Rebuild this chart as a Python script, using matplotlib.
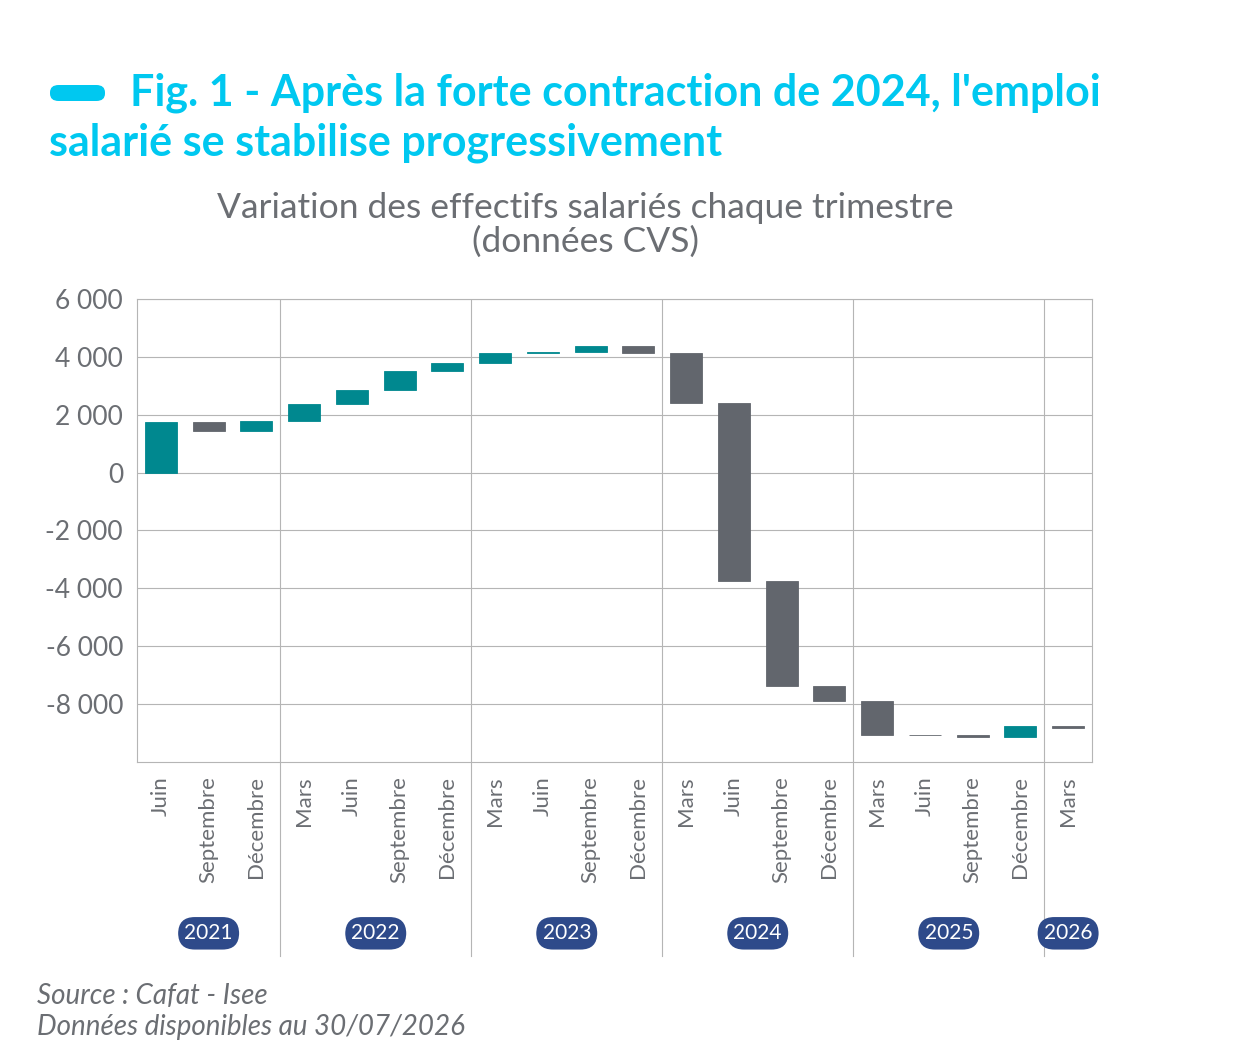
import matplotlib.pyplot as plt
from matplotlib.patches import FancyBboxPatch

plt.rcParams['font.family'] = ['Lato', 'DejaVu Sans']

labels = ["Juin", "Septembre", "Décembre",
          "Mars", "Juin", "Septembre", "Décembre",
          "Mars", "Juin", "Septembre", "Décembre",
          "Mars", "Juin", "Septembre", "Décembre",
          "Mars", "Juin", "Septembre", "Décembre",
          "Mars"]
years = ["2021", "2022", "2023", "2024", "2025", "2026"]
year_sizes = [3, 4, 4, 4, 4, 1]
# quarterly variation (cumulative waterfall)
changes = [1760, -310, 330, 600, 480, 660, 270, 350, 40, 200, -230,
           -1760, -6140, -3620, -520, -1170, -20, -40, 370, -90]

TEAL = "#00888f"
GREY = "#62666d"
CYAN = "#00c8f0"
NAVY = "#2e4a8a"
TXT = "#6b6e73"

fig = plt.figure(figsize=(12.4, 10.6), dpi=100)
ax = fig.add_axes([137/1240, 1 - 762/1060, 955/1240, 463/1060])

start = 0
for i, c in enumerate(changes):
    color = TEAL if c > 0 else GREY
    ax.bar(i, c, bottom=start, width=0.67, color=color, edgecolor=color, lw=0.6, zorder=3)
    start += c

ax.set_xlim(-0.5, len(changes) - 0.5)
ax.set_ylim(-10000, 6000)
ax.set_yticks(range(-8000, 6001, 2000))
ax.set_yticklabels([f"{v:,}".replace(",", " ") for v in range(-8000, 6001, 2000)],
                   fontsize=19, color=TXT)
ax.set_xticks(range(len(labels)))
ax.set_xticklabels(labels, rotation=90, fontsize=16, color=TXT)
ax.tick_params(length=0, pad=10)
ax.grid(axis="y", color="#b5b5b5", lw=0.8, zorder=0)
for s in ax.spines.values():
    s.set_color("#b5b5b5")

pos = -0.5
for y, n in zip(years, year_sizes):
    center = pos + n / 2
    if pos > -0.5:
        ax.axvline(pos, color="#b5b5b5", lw=0.8, zorder=1)
        ax.plot([pos, pos], [0, -0.42], transform=ax.get_xaxis_transform(),
                color="#b5b5b5", lw=0.8, clip_on=False)
    ax.text(center, -0.37, y, transform=ax.get_xaxis_transform(), ha="center", va="center",
            fontsize=15, color="white",
            bbox=dict(boxstyle="round,pad=0.3,rounding_size=0.8", fc=NAVY, ec="none"))
    pos += n

fig.patches.append(FancyBboxPatch((50/1240, 1 - 101/1060), 55/1240, 16/1060,
                                  boxstyle="round,pad=0,rounding_size=0.007",
                                  transform=fig.transFigure, fc=CYAN, ec="none"))
fig.text(130/1240, 1 - 93/1060, "Fig. 1 - Après la forte contraction de 2024, l'emploi",
         fontsize=31, fontweight="bold", color=CYAN, va="center")
fig.text(49/1240, 1 - 143/1060, "salarié se stabilise progressivement",
         fontsize=31, fontweight="bold", color=CYAN, va="center")
fig.text(585/1240, 1 - 225/1060, "Variation des effectifs salariés chaque trimestre\n(données CVS)",
         fontsize=25.5, color=TXT, ha="center", va="center", linespacing=1.05)
fig.text(37/1240, 1 - 996/1060, "Source : Cafat - Isee", fontsize=20, style="italic",
         color=TXT, va="center")
fig.text(37/1240, 1 - 1027/1060, "Données disponibles au 30/07/2026", fontsize=20,
         style="italic", color=TXT, va="center")

fig.savefig("out.png", dpi=100, facecolor="white")
